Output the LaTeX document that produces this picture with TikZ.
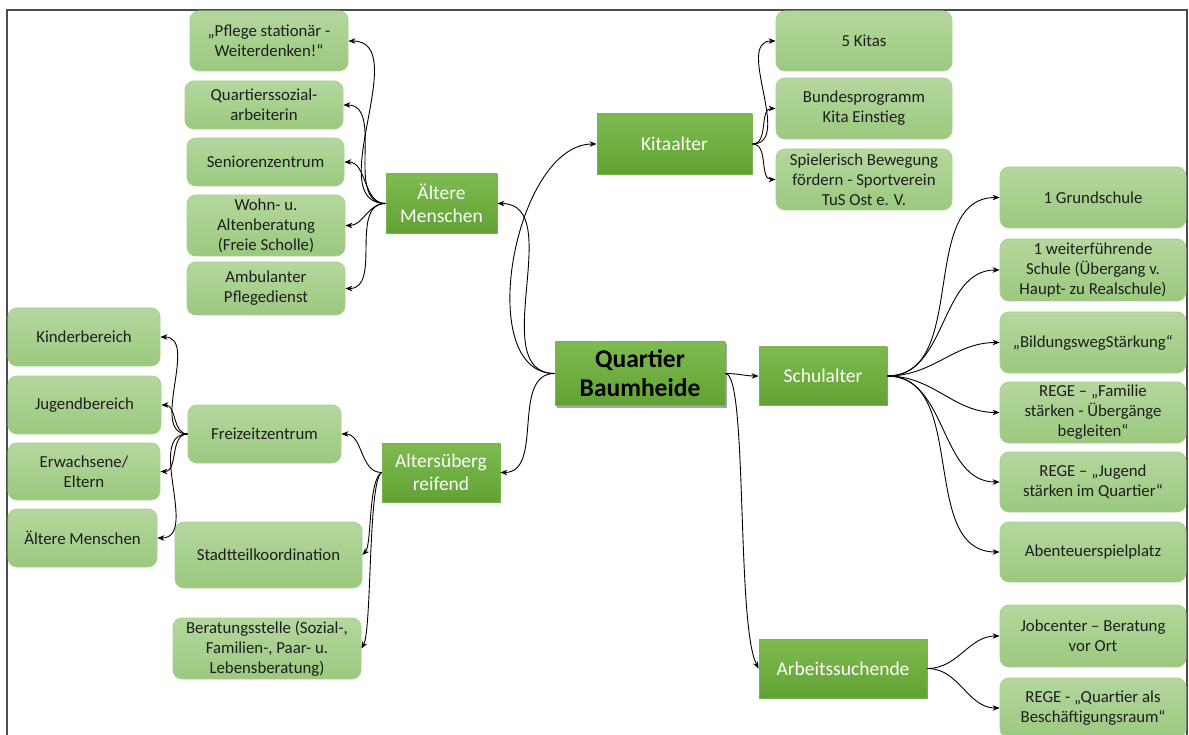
\documentclass[tikz,border=0pt]{standalone}
\usepackage{fontspec}
\setmainfont{Carlito}
\usetikzlibrary{arrows.meta,shadows}
\definecolor{lightTop}{RGB}{180,215,158}
\definecolor{lightBot}{RGB}{155,201,127}
\definecolor{lightDraw}{RGB}{170,209,144}
\definecolor{darkTop}{RGB}{126,186,80}
\definecolor{darkBot}{RGB}{98,162,52}
\definecolor{darkDraw}{RGB}{120,180,78}
\definecolor{txt}{RGB}{30,30,30}
\begin{document}
\begin{tikzpicture}[x=1pt,y=-1pt,
  lb/.style={rounded corners=9pt, top color=lightTop, bottom color=lightBot, draw=lightDraw, line width=0.8pt,
    align=center, text=txt, inner sep=2pt, font=\fontsize{16.8}{20}\selectfont},
  db/.style={top color=darkTop, bottom color=darkBot, draw=darkDraw, line width=0.8pt,
    align=center, text=white, inner sep=2pt, font=\fontsize{19.5}{23}\selectfont},
  con/.style={draw=black, line width=0.9pt, -{Stealth[length=7pt,width=5.5pt]}},
  sz/.style 2 args={minimum width=#1pt, minimum height=#2pt}
]
\useasboundingbox (0,0) rectangle (1189,735);
\fill[white] (0,0) rectangle (1189,735);
% frame
\draw[gray!60!black, line width=1.2pt] (7,737) -- (7,10) -- (1187,10) -- (1187,737);

% central
\node[db, sz={170}{63}, text=black, font=\bfseries\fontsize{25.5}{29}\selectfont,
  drop shadow={shadow xshift=2pt, shadow yshift=-2.5pt, opacity=0.35, fill=black}] (q) at (640,373.5) {Quartier\\Baumheide};

% Aeltere Menschen branch
\node[db, sz={111}{59}] (am) at (441.5,203.5) {Ältere\\Menschen};
\node[lb, sz={158}{60}] (a1) at (269,41) {„Pflege stationär -\\Weiterdenken!“};
\node[lb, sz={158}{48}] (a2) at (264,105) {Quartierssozial-\\arbeiterin};
\node[lb, sz={157}{48}] (a3) at (265.5,162) {Seniorenzentrum};
\node[lb, sz={158}{61}] (a4) at (266,225.5) {Wohn- u.\\Altenberatung\\(Freie Scholle)};
\node[lb, sz={158}{53}] (a5) at (266,288.5) {Ambulanter\\Pflegedienst};

% Altersuebergreifend branch
\node[db, sz={118}{59}] (au) at (441,472.5) {Altersüberg\\reifend};
\node[lb, sz={153}{58}] (fz) at (264.5,434) {Freizeitzentrum};
\node[lb, sz={187}{66}] (st) at (268.5,555) {Stadtteilkoordination};
\node[lb, sz={188}{61}] (bs) at (267,648.5) {Beratungsstelle (Sozial-,\\Familien-, Paar- u.\\Lebensberatung)};
\node[lb, sz={152}{58}] (f1) at (84,337) {Kinderbereich};
\node[lb, sz={153}{58}] (f2) at (84.5,405) {Jugendbereich};
\node[lb, sz={152}{57}] (f3) at (84,471.5) {Erwachsene/\\Eltern};
\node[lb, sz={149}{58}] (f4) at (82.5,538) {Ältere Menschen};

% Kitaalter branch
\node[db, sz={155}{60}] (ka) at (674.5,144) {Kitaalter};
\node[lb, sz={176}{60}] (k1) at (864,41) {5 Kitas};
\node[lb, sz={176}{61}] (k2) at (864,108.5) {Bundesprogramm\\Kita Einstieg};
\node[lb, sz={176}{61}] (k3) at (864,179.5) {Spielerisch Bewegung\\fördern - Sportverein\\TuS Ost e. V.};

% Schulalter branch
\node[db, sz={128}{58}] (sa) at (823,376) {Schulalter};
\node[lb, sz={186}{61}] (s1) at (1093,197.5) {1 Grundschule};
\node[lb, sz={186}{62}] (s2) at (1093,270) {1 weiterführende\\Schule (Übergang v.\\Haupt- zu Realschule)};
\node[lb, sz={186}{61}] (s3) at (1093,342.5) {„BildungswegStärkung“};
\node[lb, sz={186}{61}] (s4) at (1093,412.5) {REGE – „Familie\\stärken - Übergänge\\begleiten“};
\node[lb, sz={186}{60}] (s5) at (1093,482) {REGE – „Jugend\\stärken im Quartier“};
\node[lb, sz={186}{60}] (s6) at (1093,552) {Abenteuerspielplatz};

% Arbeitssuchende branch
\node[db, sz={168}{59}] (as) at (843,668.5) {Arbeitssuchende};
\node[lb, sz={186}{62}] (j1) at (1093,636) {Jobcenter – Beratung\\vor Ort};
\node[lb, sz={186}{60}] (j2) at (1093,708) {REGE -  „Quartier als\\Beschäftigungsraum“};

% connectors from center
\draw[con] (q.west) to[out=180,in=0] (am.east);
\draw[con] (q.west) to[out=180,in=180,looseness=0.9] (ka.west);
\draw[con] (q.west) to[out=180,in=0] (au.east);
\draw[con] (q.east) to[out=0,in=180] (sa.west);
\draw[con] (q.east) .. controls (748,373) and (736,625) .. (as.west);

% Aeltere Menschen
\foreach \t in {a1,a2,a3,a4,a5} \draw[con] (am.west) to[out=180,in=0] (\t.east);
% Altersuebergreifend
\draw[con] (au.west) to[out=180,in=0] (fz.east);
\draw[con] (au.west) .. controls (368,480) and (372,545) .. (st.east);
\draw[con] (au.west) .. controls (368,480) and (372,630) .. (bs.east);
% Freizeitzentrum
\foreach \t in {f1,f2,f3,f4} \draw[con] (fz.west) to[out=180,in=0] (\t.east);
% Kitaalter
\foreach \t in {k1,k2,k3} \draw[con] (ka.east) to[out=0,in=180] (\t.west);
% Schulalter
\foreach \t in {s1,s2,s3,s4,s5,s6} \draw[con] (sa.east) to[out=0,in=180] (\t.west);
% Arbeitssuchende
\foreach \t in {j1,j2} \draw[con] (as.east) to[out=0,in=180] (\t.west);
\end{tikzpicture}
\end{document}
